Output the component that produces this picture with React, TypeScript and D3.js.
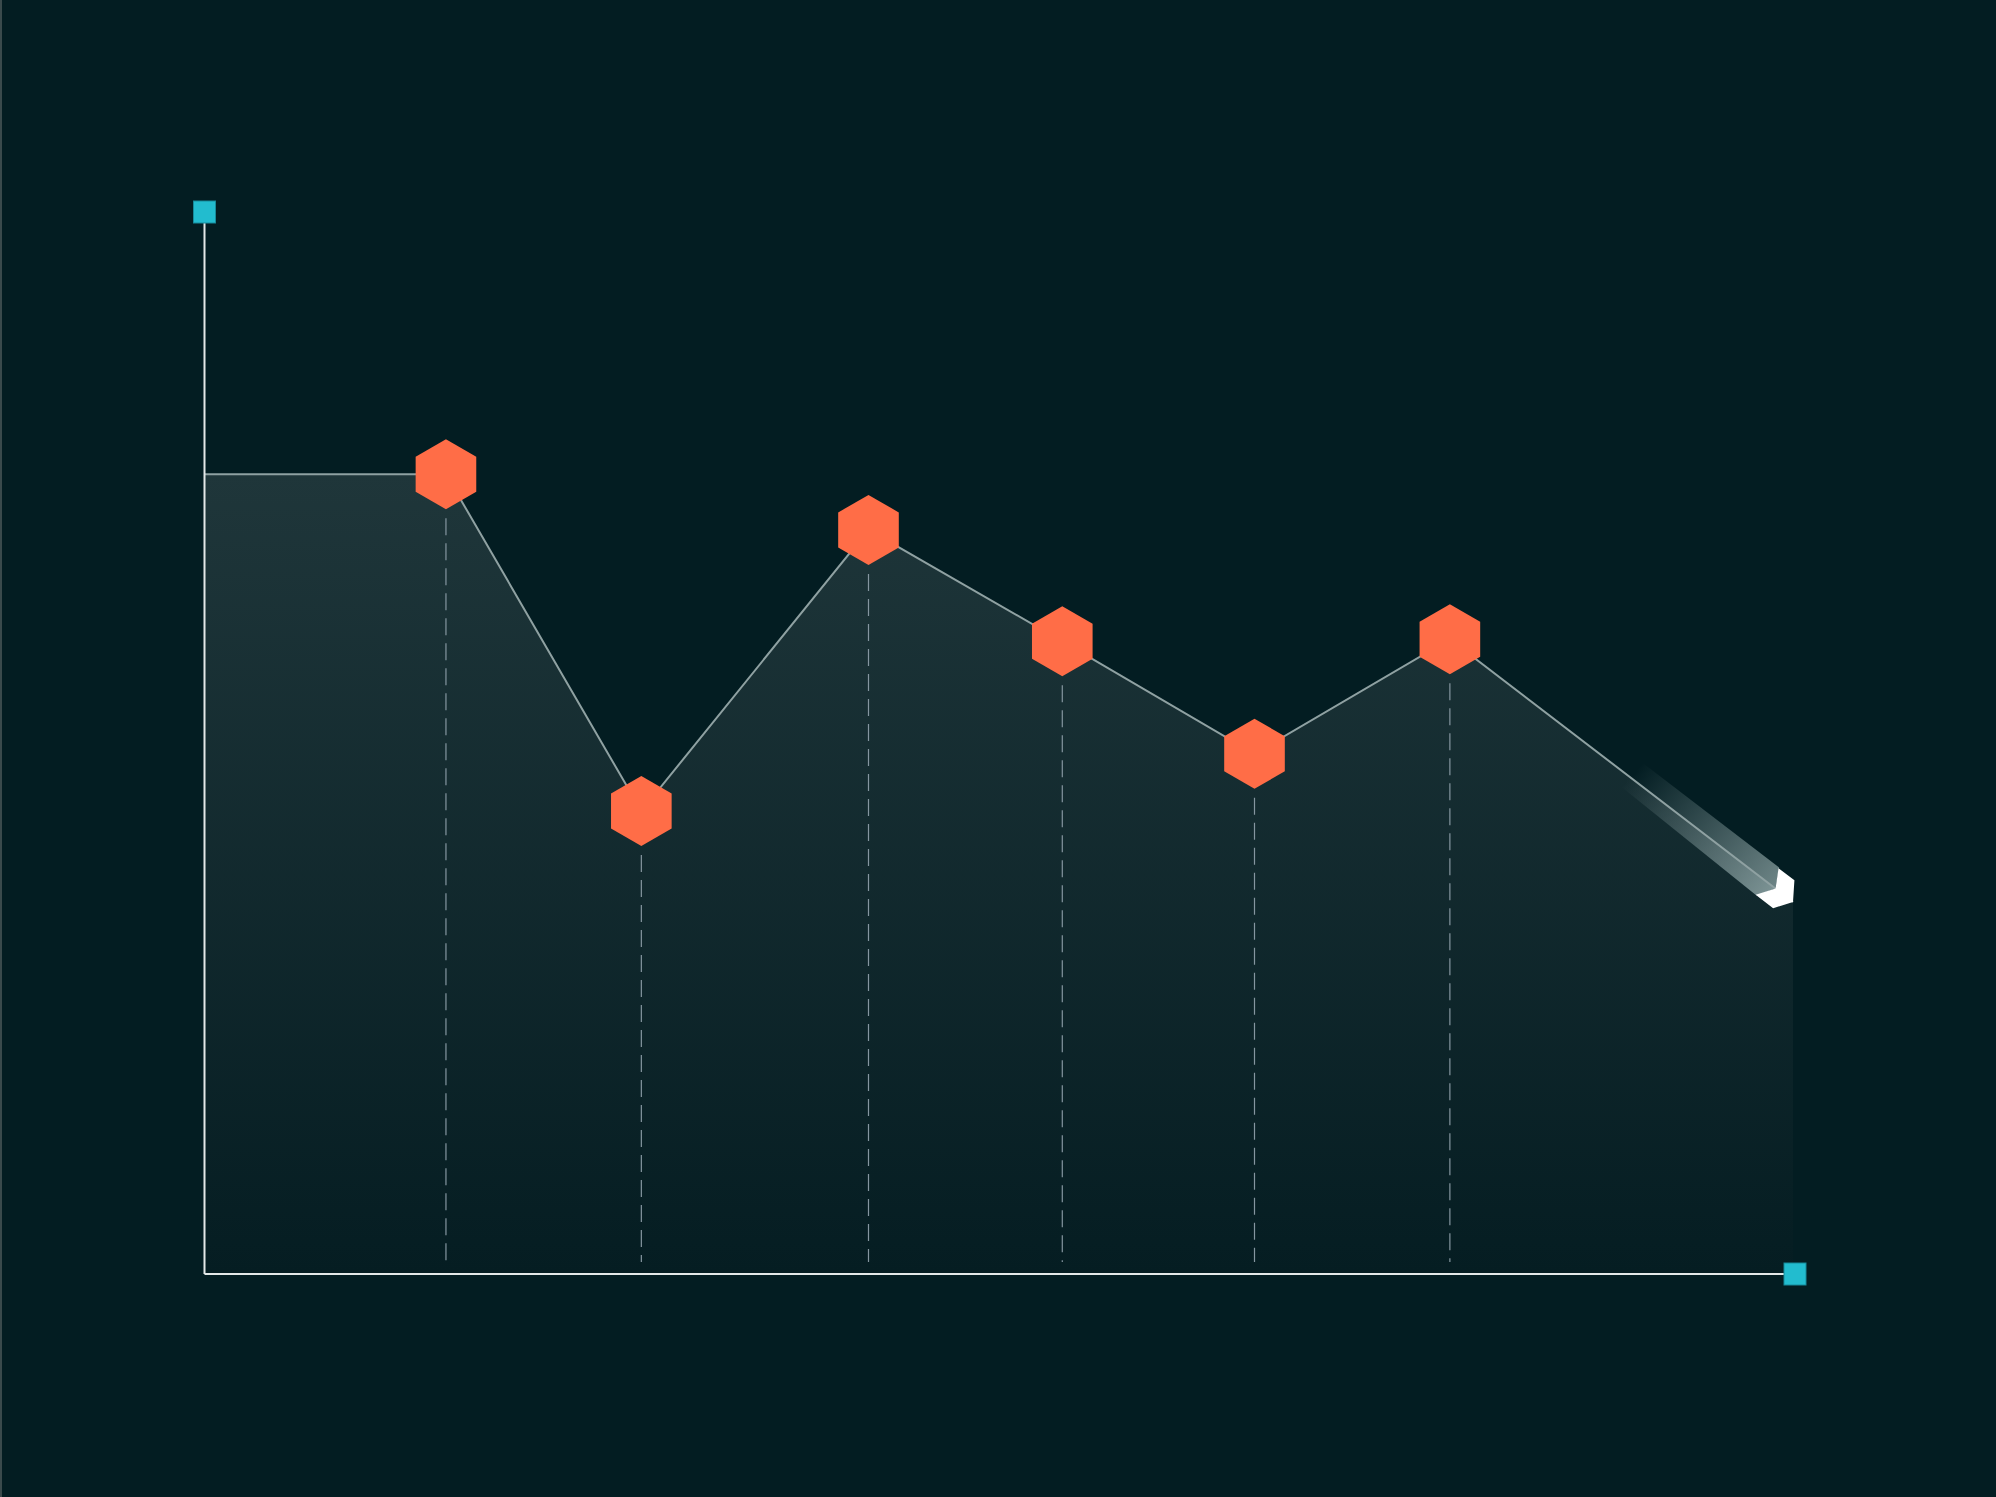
import React from "react";
import * as d3 from "d3";

const W = 1996;
const H = 1497;

// data (x in domain units 0..100, y in value units 0..100)
const xValues = [0, 15.2, 27.5, 41.8, 54.0, 66.1, 78.4, 100];
const yValues = [76.1, 76.1, 44.05, 70.8, 60.2, 49.5, 60.4, 35.4];
// which points carry a hexagon marker
const markerIdx = [1, 2, 3, 4, 5, 6];

const xScale = d3.scaleLinear().domain([0, 100]).range([204.5, 1793]);
const yScale = d3.scaleLinear().domain([0, 100]).range([1274, 223]);

const pts: [number, number][] = xValues.map((x, i) => [xScale(x), yScale(yValues[i])]);

const hexPath = (r: number) => {
  const p = d3.path();
  for (let k = 0; k < 6; k++) {
    const a = (Math.PI / 3) * k - Math.PI / 2;
    const x = r * Math.cos(a);
    const y = r * Math.sin(a);
    if (k === 0) p.moveTo(x, y);
    else p.lineTo(x, y);
  }
  p.closePath();
  return p.toString();
};

export default function App() {
  const area = d3
    .area<[number, number]>()
    .x((d) => d[0])
    .y0(yScale(0))
    .y1((d) => d[1])(pts);
  const line = d3.line<[number, number]>().x((d) => d[0]).y((d) => d[1])(pts);

  const last = pts[pts.length - 1];
  const prev = pts[pts.length - 2];
  const ang = (Math.atan2(last[1] - prev[1], last[0] - prev[0]) * 180) / Math.PI;

  const hex = hexPath(35);
  const x0 = xScale(0);
  const yTop = 223;
  const yBase = yScale(0);

  return (
    <div style={{ position: "absolute", left: 0, top: 0, width: W, height: H, overflow: "hidden" }}>
      <svg width={W} height={H} style={{ display: "block" }}>
        <defs>
          <linearGradient id="areaGrad" x1="0" y1="0" x2="0" y2="1">
            <stop offset="0" stopColor="#1f363a" />
            <stop offset="1" stopColor="#051d22" />
          </linearGradient>
          <linearGradient id="trailGrad" gradientUnits="userSpaceOnUse" x1={-204} y1={0} x2={-24} y2={0}>
            <stop offset="0" stopColor="#7a9192" stopOpacity={0} />
            <stop offset="1" stopColor="#7a9192" stopOpacity={0.88} />
          </linearGradient>
          <linearGradient id="trailGrad2" gradientUnits="userSpaceOnUse" x1={-206} y1={0} x2={-24} y2={0}>
            <stop offset="0" stopColor="#849b9c" stopOpacity={0} />
            <stop offset="1" stopColor="#849b9c" stopOpacity={0.92} />
          </linearGradient>
        </defs>
        <rect x={0} y={0} width={W} height={H} fill="#031d22" />
        <rect x={0} y={0} width={2} height={H} fill="#3a4a4c" />

        <path d={area || ""} fill="url(#areaGrad)" />

        {/* dashed drops */}
        {markerIdx.map((i) => (
          <line
            key={"d" + i}
            x1={pts[i][0]}
            x2={pts[i][0]}
            y1={pts[i][1] + 44}
            y2={1262}
            stroke="#8596a0"
            strokeWidth={1.2}
            strokeDasharray="17 8"
          />
        ))}

        {/* trail behind the arrow */}
        <g transform={`translate(${last[0]},${last[1]}) rotate(${ang})`}>
          <polygon points="-203,-19 -32,-19 -22,0 -206,0" fill="url(#trailGrad)" />
          <polygon points="-206,0 -22,0 -33,17 -206,13" fill="url(#trailGrad2)" />
        </g>

        <path d={line || ""} fill="none" stroke="#8fa1a2" strokeWidth={2} />

        <g transform={`translate(${last[0]},${last[1]}) rotate(${ang})`}>
          <polygon points="-32,-18 -12,-18 0,0 -12,17 -34,17 -22,0" fill="#ffffff" />
        </g>

        {/* axes */}
        <line x1={x0} x2={x0} y1={yTop} y2={yBase} stroke="#e3e8e8" strokeWidth={2} />
        <line x1={x0} x2={1785} y1={yBase} y2={yBase} stroke="#e3e8e8" strokeWidth={2} />
        <rect x={x0 - 11} y={yTop - 22} width={22} height={22} fill="#22bccf" stroke="#178a9a" strokeWidth={1} />
        <rect x={1784} y={yBase - 11} width={22} height={22} fill="#22bccf" stroke="#178a9a" strokeWidth={1} />

        {/* hexagon markers */}
        {markerIdx.map((i) => (
          <path key={"h" + i} d={hex} transform={`translate(${pts[i][0]},${pts[i][1]})`} fill="#ff6d47" />
        ))}
      </svg>
    </div>
  );
}
